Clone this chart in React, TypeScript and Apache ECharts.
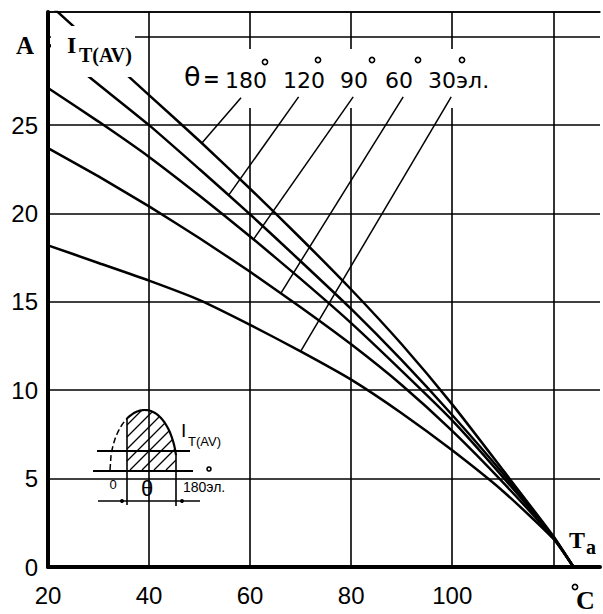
import React, { useEffect, useRef } from 'react';
import * as echarts from 'echarts';

// Ambient temperature Ta, °C
const temps = [20, 30, 40, 50, 60, 70, 80, 90, 100, 110, 120, 124];
// Average on-state current I_T(AV), A, for each conduction angle θ
const i180 = [31.9, 29.3, 26.7, 24.1, 21.4, 18.6, 15.7, 12.6, 9.2, 5.5, 1.75, 0];
const i120 = [29.6, 27.3, 25.0, 22.5, 19.95, 17.3, 14.6, 11.7, 8.6, 5.3, 1.7, 0];
const i90 = [27.1, 25.2, 23.2, 21.0, 18.7, 16.3, 13.8, 11.1, 8.3, 5.1, 1.7, 0];
const i60 = [23.7, 22.1, 20.4, 18.6, 16.7, 14.7, 12.6, 10.3, 7.7, 4.8, 1.65, 0];
const i30 = [18.2, 17.2, 16.2, 15.1, 13.7, 12.2, 10.6, 8.7, 6.6, 4.3, 1.6, 0];
const curves = [i180, i120, i90, i60, i30];

// leader lines from angle labels to curves, [Ta, I]
const leaderTop = [[58.2, 26.55], [69.6, 26.6], [80.4, 26.6], [90.3, 26.6], [99.8, 26.6]];
const leaderEnd = [[50.5, 24.0], [55.8, 21.05], [60.7, 18.55], [66.1, 15.5], [70.0, 12.2]];

// tick labels
const xTicks = [20, 40, 60, 80, 100];
const yTicks = [0, 5, 10, 15, 20, 25];
const angleLabels = ['180', '120', '90', '60', '30эл.'];

const BLACK = '#000';

function txt(text: string, x: number, y: number, font: string, align = 'left', vAlign = 'middle') {
  return {
    type: 'text', x, y, z: 30,
    style: { text, font, fill: BLACK, align, verticalAlign: vAlign, textAlign: align, textVerticalAlign: vAlign },
  };
}
function seg(x1: number, y1: number, x2: number, y2: number, w = 1.5, dash?: number[]) {
  return {
    type: 'line', z: 30,
    shape: { x1, y1, x2, y2 },
    style: { stroke: BLACK, lineWidth: w, lineDash: dash },
  };
}
function deg(cx: number, cy: number, r = 2.6) {
  return { type: 'circle', z: 30, shape: { cx, cy, r }, style: { fill: 'none', stroke: BLACK, lineWidth: 1.6 } };
}

// inset sketch (half-wave diagram)
function hump(x: number) {
  const cx = 145, base = 470, ry = 60;
  const rx = x < cx ? 35 : 32;
  const d = Math.min(1, Math.abs(x - cx) / rx);
  return base - ry * Math.sqrt(1 - d * d);
}
function insetElements() {
  const els: any[] = [];
  const solid: number[][] = [];
  for (let x = 127; x <= 176; x += 1) solid.push([x, hump(x)]);
  const dashed: number[][] = [];
  for (let x = 110; x <= 127; x += 1) dashed.push([x, hump(x)]);
  els.push({ type: 'polyline', z: 30, shape: { points: solid }, style: { stroke: BLACK, lineWidth: 2.2, fill: 'none' } });
  els.push({ type: 'polyline', z: 30, shape: { points: dashed }, style: { stroke: BLACK, lineWidth: 1.5, fill: 'none', lineDash: [6, 3] } });
  // hatch
  for (let c = 552; c <= 646; c += 12) {
    let first: number[] | null = null;
    let last: number[] | null = null;
    for (let x = 127; x <= 176; x += 0.25) {
      const y = c - x;
      if (y <= 470 && y >= hump(x)) {
        if (!first) first = [x, y];
        last = [x, y];
      }
    }
    if (first && last && last[0] - first[0] > 1) els.push(seg(first[0], first[1], last[0], last[1], 1.3));
  }
  els.push(seg(97, 451, 190, 451, 1.8));
  els.push(seg(93, 471, 193, 471, 2));
  els.push(seg(98, 501, 200, 501, 1.5));
  els.push(seg(127, 418, 127, 505, 1.6));
  els.push(seg(176, hump(176), 176, 506, 1.6));
  els.push({ type: 'circle', z: 30, shape: { cx: 122, cy: 501, r: 2 }, style: { fill: BLACK } });
  els.push({ type: 'circle', z: 30, shape: { cx: 182, cy: 501, r: 2 }, style: { fill: BLACK } });
  els.push(txt('0', 113, 484, "13px 'Liberation Sans'", 'center'));
  els.push(txt('θ', 147, 488, "22px 'Liberation Sans'", 'center'));
  els.push(txt('180эл.', 183, 487, "14px 'Liberation Sans'"));
  els.push(deg(209, 469, 2));
  els.push(txt('I', 181, 430, "19px 'Liberation Sans'"));
  els.push(txt('T(AV)', 188, 441, "13px 'Liberation Sans'"));
  return els;
}

function buildOption() {
  const series: any[] = curves.map((arr) => ({
    type: 'line',
    data: temps.map((t, i) => [t, arr[i]]),
    showSymbol: false,
    smooth: 0.2,
    z: 2,
    lineStyle: { color: BLACK, width: 2.5 },
  }));
  leaderTop.forEach((p, i) => {
    series.push({
      type: 'line',
      data: [p, leaderEnd[i]],
      showSymbol: false,
      z: 20,
      lineStyle: { color: BLACK, width: 1.5 },
    });
  });

  const angleX = [225, 283, 340, 385, 428];
  const degPos = [[265, 62], [318, 60], [372, 60], [418, 60], [462, 60]];

  const graphic: any[] = [
    // white boxes behind the labels
    { type: 'rect', z: 10, shape: { x: 51, y: 26, width: 84, height: 51 }, style: { fill: '#fff' } },
    { type: 'rect', z: 10, shape: { x: 180, y: 49, width: 335, height: 59 }, style: { fill: '#fff' } },
    txt('A', 16, 45, "bold 25px 'Liberation Serif'"),
    txt('I', 67, 45, "bold 24px 'Liberation Serif'"),
    txt('T(AV)', 79, 55, "bold 20px 'Liberation Serif'"),
    txt('θ', 184, 76, "27px 'DejaVu Sans'"),
    txt('=', 203, 79, "bold 20px 'DejaVu Sans'"),
    ...angleLabels.map((s, i) => txt(s, angleX[i], 80, "22px 'DejaVu Sans'")),
    ...degPos.map((p) => deg(p[0], p[1])),
    txt('T', 569, 540, "bold 24px 'Liberation Serif'"),
    txt('a', 586, 547, "bold 20px 'Liberation Serif'"),
    txt('C', 576, 600, "bold 26px 'Liberation Serif'"),
    deg(575, 587, 2.6),
    ...insetElements(),
  ];

  return {
    animation: false,
    backgroundColor: '#fff',
    grid: { left: 48, right: 0, top: 12, bottom: 47, containLabel: false },
    xAxis: [
      {
        type: 'value', min: 20, max: 129.25, interval: 20,
        axisLine: { show: true, onZero: false, lineStyle: { color: BLACK, width: 4 } },
        axisTick: { show: false },
        splitLine: { show: true, showMaxLine: false, lineStyle: { color: BLACK, width: 1.6 } },
        axisLabel: {
          color: BLACK, fontSize: 24, fontFamily: 'Liberation Sans', margin: 16,
          formatter: (v: number) => (xTicks.includes(v) ? String(v) : ''),
        },
      },
      {
        type: 'value', position: 'top', min: 20, max: 129.25, interval: 20,
        axisLine: { show: true, onZero: false, lineStyle: { color: BLACK, width: 1.5 } },
        axisTick: { show: false }, axisLabel: { show: false }, splitLine: { show: false },
      },
    ],
    yAxis: {
      type: 'value', min: 0, max: 31.4, interval: 5,
      axisLine: { show: true, onZero: false, lineStyle: { color: BLACK, width: 4 } },
      axisTick: { show: false },
      splitLine: { show: true, lineStyle: { color: BLACK, width: 1.6 } },
      axisLabel: {
        color: BLACK, fontSize: 24, fontFamily: 'Liberation Sans', margin: 10,
        formatter: (v: number) => (yTicks.includes(v) ? String(v) : ''),
      },
    },
    series,
    graphic,
  };
}

export default function App() {
  const ref = useRef<HTMLDivElement>(null);
  useEffect(() => {
    const chart = echarts.init(ref.current!, null, { renderer: 'svg' });
    chart.setOption(buildOption() as any);
    return () => chart.dispose();
  }, []);
  return (
    <div
      ref={ref}
      style={{ position: 'fixed', left: 0, top: 0, width: 603, height: 614, background: '#fff' }}
    />
  );
}
